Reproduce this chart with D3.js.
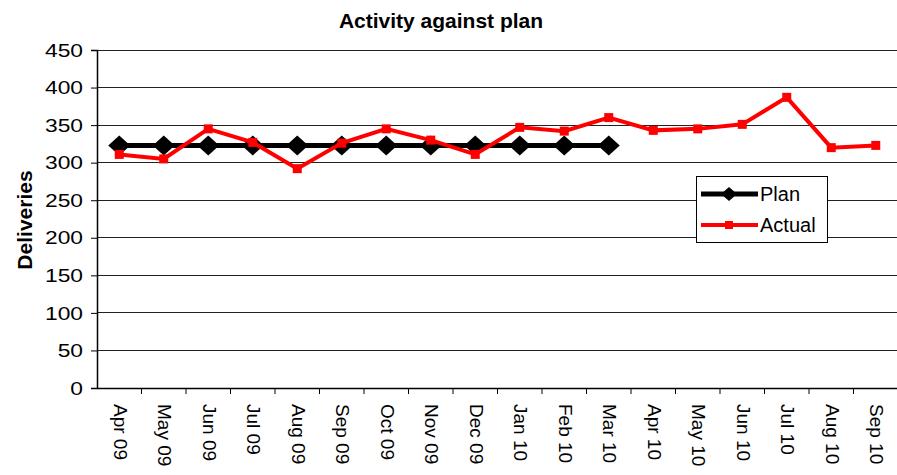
<!DOCTYPE html>
<html><head><meta charset="utf-8">
<script src="https://cdn.jsdelivr.net/npm/d3@7"></script>
<style>body{margin:0;background:#fff;font-family:Arial,"Liberation Sans",sans-serif;}</style>
</head><body><svg id="c" width="897" height="475"></svg>
<script>
const months = ["Apr 09","May 09","Jun 09","Jul 09","Aug 09","Sep 09","Oct 09","Nov 09","Dec 09","Jan 10","Feb 10","Mar 10","Apr 10","May 10","Jun 10","Jul 10","Aug 10","Sep 10"];
const plan = [323,323,323,323,323,323,323,323,323,323,323,323];
const actual = [311,305,345,327,292,326,345,330,311,347,342,360,343,345,351,387,320,323];
const yTicks = [0,50,100,150,200,250,300,350,400,450];

const svg = d3.select("#c");
const m = {l:97, r:898, t:50, b:388};
const x = d3.scaleBand().domain(months).range([m.l, m.r]);
const y = d3.scaleLinear().domain([0,450]).range([m.b, m.t]);
const cx = d => x(d) + x.bandwidth()/2;

// gridlines
svg.append("g").selectAll("line").data(yTicks.filter(v=>v>0)).join("line")
  .attr("x1", m.l).attr("x2", 897).attr("y1", d=>y(d)).attr("y2", d=>y(d))
  .attr("stroke", "#222").attr("stroke-width", 1).attr("shape-rendering","crispEdges");

// y axis
const ya = svg.append("g").attr("transform", `translate(${m.l},0)`)
  .call(d3.axisLeft(y).tickValues(yTicks).tickSize(6).tickFormat(""));
ya.select(".domain").attr("stroke","#000").attr("stroke-width",1.5);
svg.append("g").selectAll("text").data(yTicks).join("text")
  .attr("transform", d=>`translate(83,${y(d)}) scale(1.2,1)`)
  .attr("dy","0.35em").attr("text-anchor","end")
  .attr("font-size","19px").text(d=>d);

// x axis
const xa = svg.append("g").attr("transform", `translate(0,${m.b})`)
  .call(d3.axisBottom(x).tickSize(0).tickFormat(""));
xa.select(".domain").attr("stroke","#000").attr("stroke-width",1.5);
svg.append("g").selectAll("line").data(months).join("line")
  .attr("x1", d=>x(d)+x.bandwidth()).attr("x2", d=>x(d)+x.bandwidth())
  .attr("y1", m.b).attr("y2", m.b+6).attr("stroke","#000");
svg.append("g").selectAll("text").data(months).join("text")
  .attr("transform", d=>`translate(${cx(d)},${m.b+16}) rotate(90)`)
  .attr("dy","0.3em").attr("text-anchor","start")
  .attr("font-size","19px").text(d=>d);

// plan line
svg.append("path").datum(plan)
  .attr("d", d3.line().x((d,i)=>cx(months[i])).y(d=>y(d)))
  .attr("fill","none").attr("stroke","#000").attr("stroke-width",5);
svg.append("g").selectAll("path").data(plan).join("path")
  .attr("transform",(d,i)=>`translate(${cx(months[i])},${y(d)})`)
  .attr("d","M0,-10L11,0L0,10L-11,0Z").attr("fill","#000");

// actual line
svg.append("path").datum(actual)
  .attr("d", d3.line().x((d,i)=>cx(months[i])).y(d=>y(d)))
  .attr("fill","none").attr("stroke","#ff0000").attr("stroke-width",4);
svg.append("g").selectAll("rect").data(actual).join("rect")
  .attr("x",(d,i)=>cx(months[i])-4.5).attr("y",d=>y(d)-4.5)
  .attr("width",9).attr("height",9).attr("fill","#ff0000");

// title
svg.append("text").attr("x",441).attr("y",28).attr("text-anchor","middle")
  .attr("font-size","21px").attr("font-weight","bold").text("Activity against plan");
svg.append("text").attr("transform","translate(32,220) rotate(-90)").attr("text-anchor","middle")
  .attr("font-size","21px").attr("font-weight","bold").text("Deliveries");

// legend
const lg = svg.append("g");
lg.append("rect").attr("x",696.5).attr("y",176.5).attr("width",131).attr("height",66)
  .attr("fill","#fff").attr("stroke","#000");
lg.append("line").attr("x1",701).attr("x2",758).attr("y1",194).attr("y2",194).attr("stroke","#000").attr("stroke-width",5);
lg.append("path").attr("transform","translate(729,194)").attr("d","M0,-7L8,0L0,7L-8,0Z");
lg.append("text").attr("x",760).attr("y",201).attr("font-size","20px").text("Plan");
lg.append("line").attr("x1",701).attr("x2",758).attr("y1",225).attr("y2",225).attr("stroke","#ff0000").attr("stroke-width",4);
lg.append("rect").attr("x",725).attr("y",221).attr("width",8).attr("height",8).attr("fill","#ff0000");
lg.append("text").attr("x",760).attr("y",232).attr("font-size","20px").text("Actual");
</script></body></html>
